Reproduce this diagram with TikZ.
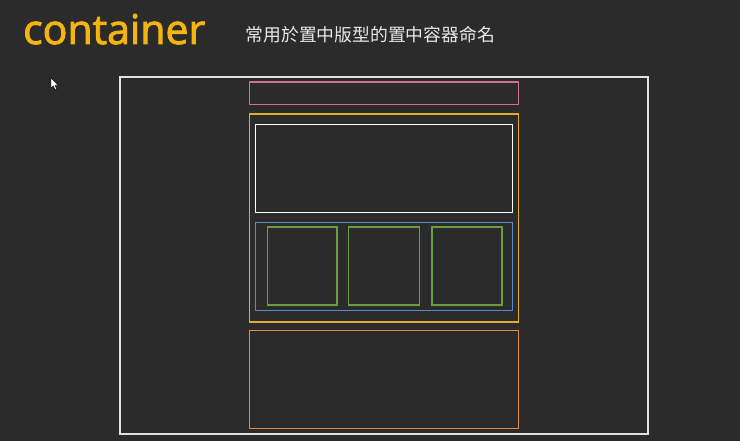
\documentclass[tikz,border=0pt]{standalone}
\usepackage{fontspec}
\setmainfont{Open Sans}
\newfontfamily\cjk{Noto Sans CJK TC}
\definecolor{bg}{HTML}{2B2B2B}
\definecolor{titlec}{HTML}{F5B50E}
\definecolor{pinkc}{HTML}{D0708F}
\definecolor{yelc}{HTML}{E0AE2A}
\definecolor{bluec}{HTML}{5A8CC0}
\definecolor{greenc}{HTML}{6A9E44}
\definecolor{orangec}{HTML}{E08A46}
\definecolor{outerc}{HTML}{E2E2E2}
\definecolor{textc}{HTML}{E8E8E8}
\tikzset{
  box/.style={draw=#1, line width=1.4pt, fill=none},
}
\begin{document}
\begin{tikzpicture}[x=1pt,y=-1pt]
\fill[bg] (0,0) rectangle (740,441);
\useasboundingbox (0,0) rectangle (740,441);
\node[anchor=base west, inner sep=0pt, text=titlec, font=\fontsize{41}{41}\selectfont\addfontfeature{FakeBold=2.2}] (title) at (23,44) {container};
\node[anchor=west, inner sep=0pt, text=textc, font=\cjk\fontsize{17.8}{17.8}\selectfont] (subtitle) at (245.5,35) {常用於置中版型的置中容器命名};
% cursor
\filldraw[fill=white, draw=black, line width=0.4pt] (51,78) -- (51,88) -- (53.3,85.8) -- (55,89.5) -- (56.6,88.8) -- (55,85.3) -- (58,85.3) -- cycle;
% outer
\draw[box=outerc] (120,77) rectangle (648,434);
\draw[box=pinkc] (249.5,82) rectangle (518.5,104.5);
\draw[box=yelc] (249.5,114) rectangle (518.5,322);
\draw[box=white] (255.5,124.5) rectangle (512.5,212.5);
\draw[box=bluec] (255.5,222.5) rectangle (512.5,310.5);
\draw[box=greenc] (267.5,227) rectangle (337,305);
\draw[box=greenc] (348.5,227) rectangle (419.5,305);
\draw[box=greenc] (432,227) rectangle (502,305);
\draw[box=orangec] (249.5,330.5) rectangle (518.5,428.5);
\end{tikzpicture}
\end{document}
